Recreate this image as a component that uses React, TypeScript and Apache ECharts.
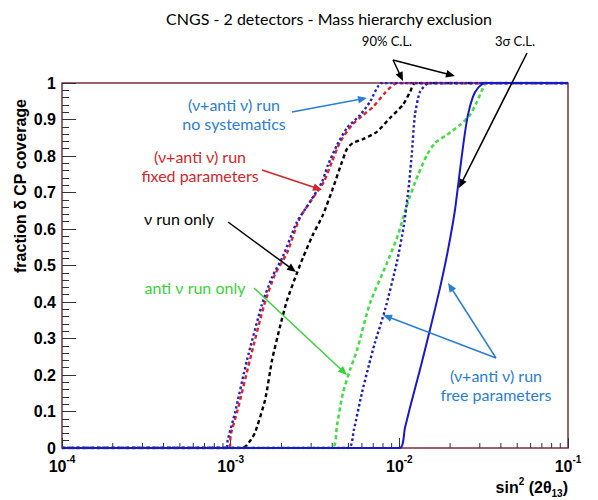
import React, { useEffect, useRef } from 'react';
import * as echarts from 'echarts';

// ---- data ----
const noSystX = [0.0001, 0.00094, 0.00096, 0.00106, 0.00125, 0.00153, 0.00176, 0.00204, 0.00247, 0.00295, 0.00348, 0.00377, 0.00427, 0.0049, 0.00585, 0.0067, 0.00789, 0.1];
const noSystY = [0, 0, 0.022, 0.096, 0.241, 0.392, 0.468, 0.525, 0.619, 0.674, 0.729, 0.775, 0.83, 0.877, 0.912, 0.948, 1, 1];

const fixedX = [0.0001, 0.00098, 0.001, 0.0011, 0.0013, 0.00158, 0.00183, 0.00216, 0.00257, 0.00307, 0.00357, 0.00398, 0.00445, 0.00524, 0.00608, 0.00697, 0.00822, 0.00968, 0.1];
const fixedY = [0, 0, 0.036, 0.104, 0.241, 0.392, 0.475, 0.535, 0.63, 0.685, 0.729, 0.784, 0.838, 0.885, 0.912, 0.934, 0.973, 1, 1];

const nuOnlyX = [0.0001, 0.00118, 0.00125, 0.00139, 0.0016, 0.00176, 0.00196, 0.00216, 0.00247, 0.00268, 0.00307, 0.00352, 0.00404, 0.00457, 0.0049, 0.00531, 0.00608, 0.00736, 0.0088, 0.0105, 0.01156, 0.0124, 0.1];
const nuOnlyY = [0, 0, 0.008, 0.041, 0.132, 0.241, 0.332, 0.405, 0.479, 0.521, 0.584, 0.638, 0.712, 0.784, 0.82, 0.836, 0.846, 0.866, 0.904, 0.94, 0.975, 1, 1];

const antiNuX = [0.0001, 0.00399, 0.00427, 0.00463, 0.0051, 0.00561, 0.0067, 0.00845, 0.00982, 0.01125, 0.0129, 0.01458, 0.01626, 0.01915, 0.02286, 0.0262, 0.0288, 0.0313, 0.0326, 0.1];
const antiNuY = [0, 0, 0.063, 0.151, 0.214, 0.268, 0.397, 0.507, 0.584, 0.674, 0.748, 0.803, 0.836, 0.858, 0.885, 0.912, 0.948, 0.986, 1, 1];

const free90X = [0.0001, 0.00501, 0.00537, 0.006, 0.0066, 0.00716, 0.00822, 0.00968, 0.01065, 0.0114, 0.01188, 0.01237, 0.01324, 0.01496, 0.1];
const free90Y = [0, 0, 0.049, 0.151, 0.227, 0.288, 0.378, 0.51, 0.611, 0.721, 0.811, 0.912, 0.975, 1, 1];

const free3sX = [0.0001, 0.01007, 0.01079, 0.01156, 0.01324, 0.01518, 0.01741, 0.01942, 0.02137, 0.0229, 0.02415, 0.0255, 0.0273, 0.0292, 0.0322, 0.1];
const free3sY = [0, 0, 0.055, 0.11, 0.214, 0.323, 0.438, 0.542, 0.652, 0.762, 0.844, 0.912, 0.962, 0.986, 1, 1];

const xMinorTicks = [2e-4, 3e-4, 4e-4, 5e-4, 6e-4, 7e-4, 8e-4, 9e-4, 2e-3, 3e-3, 4e-3, 5e-3, 6e-3, 7e-3, 8e-3, 9e-3, 2e-2, 3e-2, 4e-2, 5e-2, 6e-2, 7e-2, 8e-2, 9e-2];

const titleText = 'CNGS - 2 detectors - Mass hierarchy exclusion';

const zip = (xs: number[], ys: number[]) => xs.map((x, i) => [x, ys[i]]);

function arrow(x1: number, y1: number, x2: number, y2: number, color: string, head = 9, w = 3.8, lw = 1.5) {
  const dx = x2 - x1, dy = y2 - y1;
  const L = Math.hypot(dx, dy);
  const ux = dx / L, uy = dy / L;
  const bx = x2 - ux * head, by = y2 - uy * head;
  const px = -uy * w, py = ux * w;
  return [
    { type: 'line', z: 20, silent: true, shape: { x1, y1, x2: x2 - ux * 3, y2: y2 - uy * 3 }, style: { stroke: color, lineWidth: lw } },
    { type: 'polygon', z: 20, silent: true, shape: { points: [[x2, y2], [bx + px, by + py], [bx - px, by - py]] }, style: { fill: color } },
  ];
}

const annFont = 'Lato, "Open Sans", sans-serif';
function note(x: number, y: number, text: string, color: string, size = 16) {
  return {
    type: 'text', z: 20, silent: true, x, y,
    style: { text, fill: color, font: `${size}px ${annFont}`, align: 'center', verticalAlign: 'middle', lineHeight: 19 },
  };
}

export default function App() {
  const ref = useRef<HTMLDivElement>(null);
  useEffect(() => {
    if (!ref.current) return;
    const chart = echarts.init(ref.current, null, { renderer: 'svg' });
    const blueAnn = '#2a7ed6';
    const redAnn = '#d3262b';
    const greenAnn = '#3ad23a';
    const line = (name: string, data: number[][], color: string, type: any, width = 2.4) => ({
      name, type: 'line', data, showSymbol: false, symbol: 'none', smooth: 0.2, z: 5,
      lineStyle: { color, width, type }, silent: true,
    });
    chart.setOption({
      animation: false,
      backgroundColor: '#ffffff',
      grid: { left: 62, right: 30, top: 83, bottom: 52, show: true, borderColor: '#7a2f3f', borderWidth: 1.5, backgroundColor: 'transparent' },
      xAxis: {
        type: 'log', logBase: 10, min: 0.0001, max: 0.1,
        axisLine: { show: false },
        axisTick: { show: true, inside: true, length: 10, lineStyle: { color: '#333' } },
        splitLine: { show: false },
        axisLabel: {
          margin: 6,
          formatter: (v: number) => `{b|10}{s|${Math.round(Math.log10(v))}}`,
          rich: {
            b: { fontSize: 16, fontWeight: 'bold', fontFamily: '"Liberation Sans", Arial, sans-serif', color: '#000', lineHeight: 20, verticalAlign: 'bottom' },
            s: { fontSize: 10, fontWeight: 'bold', fontFamily: '"Liberation Sans", Arial, sans-serif', color: '#000', lineHeight: 20, verticalAlign: 'top', padding: [0, 0, 0, 0] },
          },
        },
      },
      yAxis: {
        type: 'value', min: 0, max: 1, interval: 0.1,
        axisLine: { show: false },
        axisTick: { show: true, inside: true, length: 14, lineStyle: { color: '#333' } },
        minorTick: { show: true, splitNumber: 5, length: 7, lineStyle: { color: '#333' } },
        splitLine: { show: false },
        axisLabel: {
          margin: 6, color: '#000', fontSize: 16, fontWeight: 'bold', fontFamily: '"Liberation Sans", Arial, sans-serif',
          formatter: (v: number) => (v === 0 ? '0' : v === 1 ? '1' : v.toFixed(1)),
        },
      },
      series: [
        {
          type: 'custom', silent: true, z: 3, clip: false,
          data: xMinorTicks.map((v) => [v, 0]),
          encode: { x: 0, y: 1 },
          renderItem: (params: any, api: any) => {
            const p = api.coord([api.value(0), 0]);
            return { type: 'line', shape: { x1: p[0], y1: p[1], x2: p[0], y2: p[1] - 5 }, style: { stroke: '#333', lineWidth: 1 } };
          },
        },
        line('nu only', zip(nuOnlyX, nuOnlyY), '#000000', [4, 3]),
        line('fixed parameters', zip(fixedX, fixedY), '#e0222a', [4, 3]),
        line('no systematics', zip(noSystX, noSystY), '#2222cc', [2.5, 2.5]),
        line('anti nu only', zip(antiNuX, antiNuY), '#45dd45', [4, 3], 2.6),
        line('free parameters 90%', zip(free90X, free90Y), '#1f1fc0', [2.5, 2.5]),
        line('free parameters 3sigma', zip(free3sX, free3sY), '#1818d0', 'solid', 2),
      ],
      graphic: [
        { type: 'text', z: 20, silent: true, x: 329, y: 18, style: { text: titleText, fill: '#000', font: `16px ${annFont}`, align: 'center', verticalAlign: 'middle' } },
        {
          type: 'text', z: 20, silent: true, x: 20, y: 186, rotation: Math.PI / 2,
          style: { text: 'fraction δ CP coverage', fill: '#000', font: 'bold 16px "Liberation Sans", Arial, sans-serif', align: 'center', verticalAlign: 'middle' },
        },
        {
          type: 'text', z: 20, silent: true, x: 568, y: 487,
          style: {
            text: '{a|sin}{p|2}{a| (2θ}{q|13}{a|)}', align: 'right', verticalAlign: 'middle',
            rich: {
              a: { fontSize: 16, fontWeight: 'bold', fontFamily: '"Liberation Sans", Arial, sans-serif', fill: '#000', lineHeight: 22, verticalAlign: 'middle' },
              p: { fontSize: 10, fontWeight: 'bold', fontFamily: '"Liberation Sans", Arial, sans-serif', fill: '#000', lineHeight: 22, verticalAlign: 'top' },
              q: { fontSize: 10, fontWeight: 'bold', fontFamily: '"Liberation Sans", Arial, sans-serif', fill: '#000', lineHeight: 22, verticalAlign: 'bottom' },
            },
          },
        },
        note(387, 41, '90% C.L.', '#000', 13),
        note(515, 41, '3σ C.L.', '#000', 13),
        note(234, 114, '(ν+anti ν) run\nno systematics', blueAnn),
        note(200, 166, '(ν+anti ν) run\nfixed parameters', redAnn),
        note(179, 218, 'ν run only', '#000'),
        note(195, 287, 'anti ν run only', greenAnn),
        note(496, 385, '(ν+anti ν) run\nfree parameters', blueAnn),
        ...arrow(292, 112, 367, 98, blueAnn),
        ...arrow(262, 170, 322, 190, redAnn),
        ...arrow(228, 222, 296, 272, '#000'),
        ...arrow(254, 288, 347, 375, greenAnn),
        ...arrow(496, 358, 383, 315, blueAnn),
        ...arrow(496, 358, 448, 283, blueAnn),
        ...arrow(393, 60, 403, 81, '#000'),
        ...arrow(393, 60, 455, 76, '#000'),
        ...arrow(527, 53, 459, 188, '#000'),
      ],
    });
    return () => chart.dispose();
  }, []);
  return <div ref={ref} style={{ position: 'absolute', left: 0, top: 0, width: 598, height: 500 }} />;
}
